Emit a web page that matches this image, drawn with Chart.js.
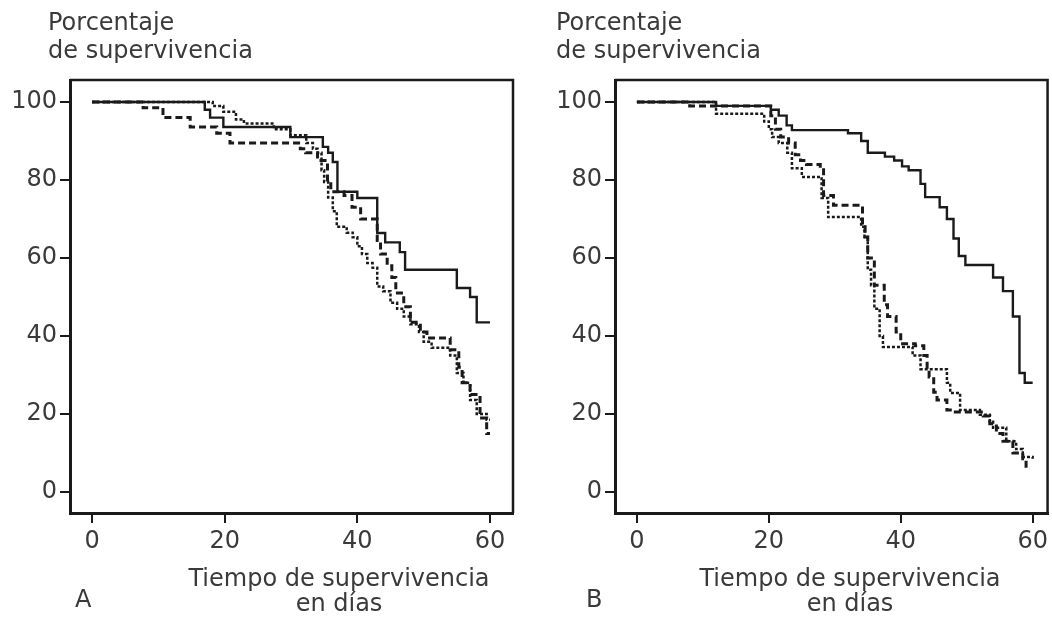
<!DOCTYPE html>
<html>
<head>
<meta charset="utf-8">
<script src="https://cdn.jsdelivr.net/npm/chart.js@4.4.0/dist/chart.umd.min.js"></script>
<style>
  body { margin: 0; background: #fff; width: 1052px; height: 620px; overflow: hidden; position: relative;
         font-family: "DejaVu Sans", Verdana, sans-serif; color: #3a3a3a; }
  .panel { position: absolute; top: 0; height: 620px; }
  .lbl { position: absolute; font-size: 24px; white-space: nowrap; }
  .ytitle { line-height: 28px; top: 8px; }
  .xtitle { line-height: 25px; top: 566px; width: 400px; text-align: center; }
  .letter { line-height: 25px; top: 587px; }
</style>
</head>
<body>
<div class="panel" style="left:0;width:526px"><canvas id="chartA" width="526" height="620"></canvas></div>
<div class="panel" style="left:545px;width:507px"><canvas id="chartB" width="507" height="620"></canvas></div>

<div class="lbl ytitle" style="left:48px">Porcentaje<br>de supervivencia</div>
<div class="lbl xtitle" style="left:139px">Tiempo de supervivencia<br>en días</div>
<div class="lbl letter" style="left:75px">A</div>

<div class="lbl ytitle" style="left:556px">Porcentaje<br>de supervivencia</div>
<div class="lbl xtitle" style="left:650px">Tiempo de supervivencia<br>en días</div>
<div class="lbl letter" style="left:586px">B</div>

<script>
const xTicks = [0, 20, 40, 60];
const yTicks = [0, 20, 40, 60, 80, 100];

// Panel A
const aSolidDays = [0, 17, 17.8, 19.8, 29.9, 34.8, 35.6, 36.3, 37, 40, 43, 44.2, 46.4, 47.2, 55, 57, 58, 60];
const aSolidPct  = [100, 98, 96, 93.6, 91, 88.5, 87, 84.6, 77, 75.4, 66.4, 64, 61.5, 57, 52.3, 50, 43.5, 43.5];
const aDashDays  = [0, 7.7, 10.7, 14.8, 18.8, 20.8, 31.4, 32.2, 34, 35.5, 36, 38, 39.2, 40.5, 43, 43.5, 44.5, 45.2, 45.8, 47,
                    48, 49.5, 50.5, 54, 55.3, 55.8, 57, 58.5, 59.5, 60];
const aDashPct   = [100, 98.5, 96, 93.6, 92, 89.5, 88, 87, 85, 80, 77, 76, 73, 70, 64.5, 61, 58, 55, 51, 47.5,
                    43.5, 41, 39.5, 36.5, 32, 28, 25, 19, 15, 15];
const aDotDays   = [0, 18.2, 19.8, 21.7, 22.9, 27.4, 29.9, 32.3, 33.3, 34, 34.6, 35, 35.6, 36.3, 36.9, 38.4, 39.3, 40, 40.7, 41.5,
                    42.3, 43, 43.9, 45, 46, 47, 48, 49.3, 50, 51.2, 54, 55, 56, 57, 58, 59.5, 60];
const aDotPct    = [100, 99, 97.5, 95.5, 94.5, 93, 91.5, 89.5, 88, 87, 82.5, 79.5, 75.5, 72, 68, 66.5, 65.3, 63, 61, 58.7,
                    57.5, 52.7, 51.5, 48.5, 47, 45, 43, 41, 38.5, 37, 35, 30.5, 28, 23.6, 20, 18.5, 18.5];

// Panel B
const bSolidDays = [0, 12, 20.3, 21.5, 22.7, 23.5, 32, 34, 35, 37.6, 39, 40.2, 41.2, 43, 43.7, 45.9, 47, 48, 48.8, 49.8,
                    54, 55.5, 57, 58, 58.8, 60];
const bSolidPct  = [100, 99, 98, 96.5, 94, 92.8, 92, 90, 87, 86, 85, 83.5, 82.5, 79, 75.6, 73, 70, 65, 60.5, 58.2,
                    55, 51.5, 45, 30.5, 28, 28];
const bDashDays  = [0, 8, 20.3, 21, 21.8, 23, 24, 24.8, 25.7, 27.8, 28.3, 29.8, 34.2, 34.6, 35, 36, 37.5, 38, 39.3, 40,
                    42.2, 43.5, 44, 44.3, 45, 45.5, 47, 48, 52.5, 53.5, 54.5, 55.5, 57, 58.5, 59, 59.5];
const bDashPct   = [100, 99, 96.5, 93, 91, 89.5, 86.5, 85, 84, 83, 76, 73.5, 68, 65.4, 60, 53, 48, 45, 41, 38,
                    37.5, 35, 31.5, 29.5, 25.6, 23.6, 21, 20.5, 19.5, 17.5, 15, 13, 10, 8.5, 6, 6];
const bDotDays   = [0, 12, 19.3, 20, 20.5, 21.5, 22.8, 23.5, 25, 28, 29, 34, 34.5, 35, 35.5, 36, 36.8, 37.3, 41.8, 43,
                    47, 47.5, 49, 52, 53.5, 54, 56, 57.5, 58.5, 60];
const bDotPct    = [100, 97, 95, 93, 91, 89.5, 87, 83, 80.8, 75.4, 70.5, 68, 65.4, 57, 53, 47, 40, 37.2, 35, 31.5,
                    28, 25.4, 21, 19.8, 18, 16.5, 13, 11, 9, 8.5];

Chart.defaults.font.family = '"DejaVu Sans", Verdana, sans-serif';
Chart.defaults.color = '#3a3a3a';

const INK = '#1a1a1a';

const boxPlugin = {
    id: 'box',
    afterDraw(chart) {
        const { ctx, chartArea: a } = chart;
        ctx.save();
        ctx.strokeStyle = INK;
        ctx.lineWidth = 2.5;
        ctx.beginPath();
        ctx.moveTo(a.left, a.top);
        ctx.lineTo(a.right, a.top);
        ctx.lineTo(a.right, a.bottom);
        ctx.stroke();
        ctx.restore();
    }
};

function series(days, pct, dash, width) {
    return {
        data: days.map((d, i) => ({ x: d, y: pct[i] })),
        borderColor: INK,
        borderWidth: width,
        borderDash: dash,
        stepped: 'before',
        pointRadius: 0,
        fill: false
    };
}

function makePanel(id, sets, xMax, padRight) {
    new Chart(document.getElementById(id), {
        type: 'line',
        data: { datasets: sets },
        options: {
            responsive: false,
            animation: false,
            events: [],
            layout: { padding: { top: 80, right: padRight, left: 0, bottom: 0 } },
            plugins: { legend: { display: false }, tooltip: { enabled: false } },
            scales: {
                x: {
                    type: 'linear', min: -3.32, max: xMax,
                    afterBuildTicks: s => { s.ticks = xTicks.map(v => ({ value: v })); },
                    afterFit: s => { s.height = 107; },
                    ticks: { font: { size: 24 }, color: '#3a3a3a', padding: 4, maxRotation: 0 },
                    grid: { drawOnChartArea: false, drawTicks: true, tickLength: 10, color: INK, lineWidth: 2 },
                    border: { display: true, color: INK, width: 3 }
                },
                y: {
                    type: 'linear', min: -5.38, max: 105.64,
                    afterBuildTicks: s => { s.ticks = yTicks.map(v => ({ value: v })); },
                    afterFit: s => { s.width = 70; },
                    ticks: { font: { size: 24 }, color: '#3a3a3a', padding: 3 },
                    grid: { drawOnChartArea: false, drawTicks: true, tickLength: 10, color: INK, lineWidth: 2 },
                    border: { display: true, color: INK, width: 3 }
                }
            }
        },
        plugins: [boxPlugin]
    });
}

makePanel('chartA', [
    series(aSolidDays, aSolidPct, [], 2.4),
    series(aDashDays, aDashPct, [7, 4], 3),
    series(aDotDays, aDotPct, [3, 2], 2.5)
], 63.47, 13);

makePanel('chartB', [
    series(bSolidDays, bSolidPct, [], 2.4),
    series(bDashDays, bDashPct, [7, 4], 3),
    series(bDotDays, bDotPct, [3, 2], 2.5)
], 62.26, 2);
</script>
</body>
</html>
